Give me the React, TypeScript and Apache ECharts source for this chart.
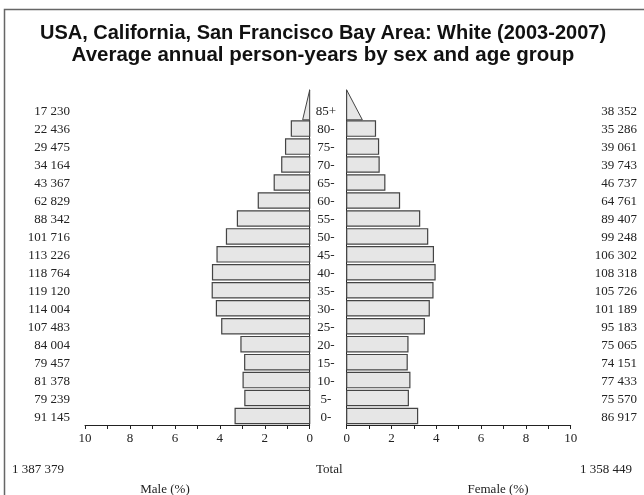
import React, { useEffect, useRef } from 'react';
import * as echarts from 'echarts';

const ageGroups = ['0-', '5-', '10-', '15-', '20-', '25-', '30-', '35-', '40-', '45-', '50-', '55-', '60-', '65-', '70-', '75-', '80-', '85+'];
const maleCounts = [91145, 79239, 81378, 79457, 84004, 107483, 114004, 119120, 118764, 113226, 101716, 88342, 62829, 43367, 34164, 29475, 22436, 17230];
const femaleCounts = [86917, 75570, 77433, 74151, 75065, 95183, 101189, 105726, 108318, 106302, 99248, 89407, 64761, 46737, 39743, 39061, 35286, 38352];
const maleTotal = 1387379;
const femaleTotal = 1358449;
const titleLines = [
  'USA, California, San Francisco Bay Area: White (2003-2007)',
  'Average annual person-years by sex and age group',
];
const totalLabel = 'Total';
const maleAxisName = 'Male (%)';
const femaleAxisName = 'Female (%)';

const SERIF = '"Liberation Serif", "DejaVu Serif", serif';
const SANS = '"Liberation Sans", Arial, sans-serif';

const fmt = (n: number) => String(n).replace(/\B(?=(\d{3})+(?!\d))/g, ' ');
const grand = maleTotal + femaleTotal;

export default function App() {
  const ref = useRef<HTMLDivElement>(null);
  useEffect(() => {
    if (!ref.current) return;
    const chart = echarts.init(ref.current, null, { renderer: 'svg' });
    const barH = 15.3;
    const makeRender = (counts: number[], side: 'male' | 'female') => (params: any, api: any) => {
      const i = api.value(0);
      const pct = api.value(1);
      const p0 = api.coord([0, i]);
      const p1 = api.coord([pct, i]);
      const children: any[] = [];
      const cs = params.coordSys;
      if (i === ageGroups.length - 1) {
        const pb = api.coord([pct / 2, i]);
        const baseY = p0[1] + barH / 2 + 1.5;
        children.push({
          type: 'polygon',
          shape: { points: [[p0[0], cs.y], [p0[0], baseY], [pb[0], baseY]] },
          style: { fill: '#e6e6e6', stroke: '#444', lineWidth: 1 },
        });
      } else {
        children.push({
          type: 'rect',
          shape: { x: Math.min(p0[0], p1[0]), y: p0[1] - barH / 2, width: Math.abs(p1[0] - p0[0]), height: barH },
          style: { fill: '#e6e6e6', stroke: '#444', lineWidth: 1.2 },
        });
      }
      if (side === 'male') {
        children.push({
          type: 'text',
          style: { text: fmt(counts[i]), x: 70, y: p0[1], align: 'right', verticalAlign: 'middle', font: `13px ${SERIF}`, fill: '#222' },
        });
      } else {
        children.push({
          type: 'text',
          style: { text: fmt(counts[i]), x: 637, y: p0[1], align: 'right', verticalAlign: 'middle', font: `13px ${SERIF}`, fill: '#222' },
        });
        children.push({
          type: 'text',
          style: { text: ageGroups[i], x: 326, y: p0[1], align: 'center', verticalAlign: 'middle', font: `13px ${SERIF}`, fill: '#222' },
        });
      }
      return { type: 'group', children };
    };

    const xAxisBase = (gridIndex: number, inverse: boolean) => ({
      gridIndex,
      type: 'value',
      min: 0,
      max: 10,
      interval: 1,
      inverse,
      axisLine: { show: true, onZero: false, lineStyle: { color: '#222', width: 1 } },
      axisTick: { show: true, length: 4, lineStyle: { color: '#222' } },
      axisLabel: {
        formatter: (v: number) => (v % 2 === 0 ? String(v) : ''),
        fontFamily: SERIF,
        fontSize: 13,
        color: '#222',
        margin: 6,
      },
      splitLine: { show: false },
    });
    const yAxisBase = (gridIndex: number, position: string) => ({
      gridIndex,
      type: 'value',
      min: -0.5,
      max: 18.15,
      position,
      axisLine: { show: true, onZero: false, lineStyle: { color: '#222', width: 1 } },
      axisTick: { show: false },
      axisLabel: { show: false },
      splitLine: { show: false },
    });

    chart.setOption({
      animation: false,
      grid: [
        { left: 85, top: 90, width: 224.7, height: 335 },
        { left: 346.7, top: 90, width: 224, height: 335 },
      ],
      xAxis: [xAxisBase(0, true), xAxisBase(1, false)],
      yAxis: [yAxisBase(0, 'right'), yAxisBase(1, 'left')],
      series: [
        {
          type: 'custom',
          xAxisIndex: 0,
          yAxisIndex: 0,
          encode: { x: 1, y: 0 },
          renderItem: makeRender(maleCounts, 'male'),
          data: maleCounts.map((c, i) => [i, (c / grand) * 100]),
        },
        {
          type: 'custom',
          xAxisIndex: 1,
          yAxisIndex: 1,
          encode: { x: 1, y: 0 },
          renderItem: makeRender(femaleCounts, 'female'),
          data: femaleCounts.map((c, i) => [i, (c / grand) * 100]),
        },
      ],
      graphic: [
        { type: 'polyline', shape: { points: [[4.5, 495], [4.5, 9.5], [644, 9.5]] }, style: { stroke: '#666', lineWidth: 1.5, fill: 'none' } },
        { type: 'text', x: 323, y: 32, style: { text: titleLines[0], align: 'center', verticalAlign: 'middle', font: `bold 20px ${SANS}`, fill: '#111' } },
        { type: 'text', x: 323, y: 53, style: { text: titleLines[1], align: 'center', verticalAlign: 'middle', font: `bold 20.5px ${SANS}`, fill: '#111' } },
        { type: 'text', x: 12, y: 468, style: { text: fmt(maleTotal), align: 'left', verticalAlign: 'middle', font: `13px ${SERIF}`, fill: '#222' } },
        { type: 'text', x: 316, y: 468, style: { text: totalLabel, align: 'left', verticalAlign: 'middle', font: `13px ${SERIF}`, fill: '#222' } },
        { type: 'text', x: 632, y: 468, style: { text: fmt(femaleTotal), align: 'right', verticalAlign: 'middle', font: `13px ${SERIF}`, fill: '#222' } },
        { type: 'text', x: 165, y: 488, style: { text: maleAxisName, align: 'center', verticalAlign: 'middle', font: `13px ${SERIF}`, fill: '#222' } },
        { type: 'text', x: 498, y: 488, style: { text: femaleAxisName, align: 'center', verticalAlign: 'middle', font: `13px ${SERIF}`, fill: '#222' } },
      ],
    });
    return () => chart.dispose();
  }, []);
  return <div ref={ref} style={{ position: 'fixed', left: 0, top: 0, width: 644, height: 495 }} />;
}
